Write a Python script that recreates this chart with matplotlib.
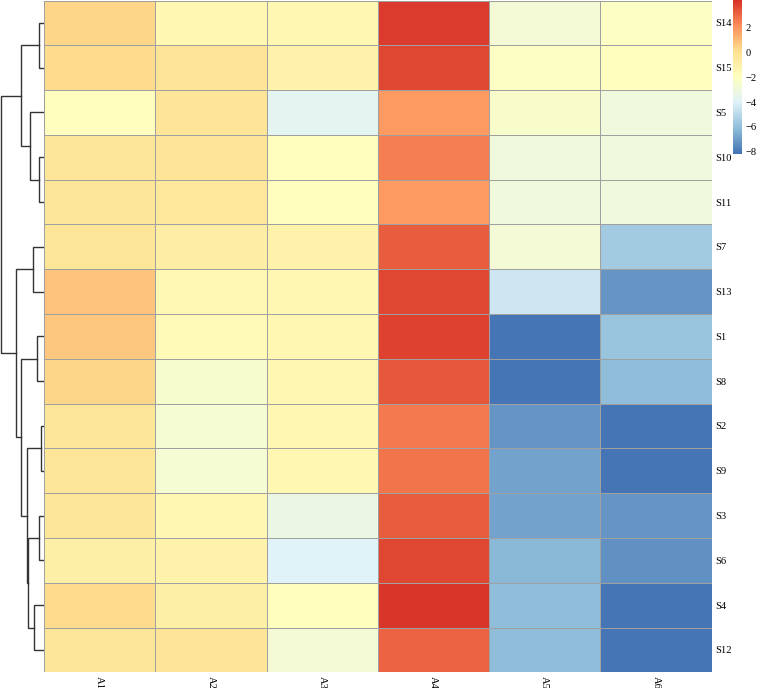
import numpy as np
import matplotlib
matplotlib.use("Agg")
import matplotlib.pyplot as plt
from matplotlib.colors import LinearSegmentedColormap

plt.rcParams['font.family'] = ['Liberation Serif', 'DejaVu Serif']

rows = ['S14', 'S15', 'S5', 'S10', 'S11', 'S7', 'S13', 'S1', 'S8',
        'S2', 'S9', 'S3', 'S6', 'S4', 'S12']
cols = ['A1', 'A2', 'A3', 'A4', 'A5', 'A6']

# values per column, rows in the order above
A1 = [0.3, 0.2, -2.0, -0.3, -0.3, -0.3, 0.8, 0.7, 0.3, -0.3, -0.3, -0.3, -1.0, 0.2, -0.3]
A2 = [-1.5, -0.2, -0.2, -0.2, -0.4, -0.8, -1.6, -1.7, -2.6, -2.7, -2.7, -1.5, -1.2, -1.0, -0.2]
A3 = [-1.4, -1.2, -3.8, -2.0, -2.0, -1.2, -1.4, -1.4, -1.4, -1.5, -1.5, -3.3, -4.0, -2.0, -2.8]
A4 = [3.9, 3.6, 1.8, 2.4, 1.8, 3.2, 3.7, 3.8, 3.3, 2.5, 2.6, 3.1, 3.6, 4.0, 3.0]
A5 = [-2.8, -2.2, -2.4, -3.0, -3.1, -2.8, -4.6, -8.2, -8.2, -7.3, -6.9, -6.9, -6.3, -6.1, -6.1]
A6 = [-2.2, -2.0, -3.1, -3.1, -3.1, -5.7, -7.3, -5.9, -6.2, -8.2, -8.2, -7.3, -7.4, -8.2, -8.2]

# row clustering: (left, right, height), ints refer to earlier merges
merges = [('S14', 'S15', 5), ('S10', 'S11', 5), ('S5', 1, 14), (0, 2, 22.7),
          ('S7', 'S13', 10.7), ('S1', 'S8', 7.3), ('S2', 'S9', 3.3),
          ('S3', 'S6', 5.3), ('S4', 'S12', 9.7), (7, 8, 15.7), (6, 9, 17.3),
          (5, 10, 22.7), (4, 11, 28), (3, 12, 43.5)]

data = np.array([A1, A2, A3, A4, A5, A6]).T
vmin, vmax = -8.2, 4.2

palette = ["#4575B4", "#91BFDB", "#E0F3F8", "#FFFFBF", "#FEE090", "#FC8D59", "#D73027"]
cmap = LinearSegmentedColormap.from_list('rdylbu', palette, N=100)

W, H = 757, 688
fig = plt.figure(figsize=(W / 100, H / 100), dpi=100)

# heatmap
hx0, hx1, hy0, hy1 = 44, 711.7, 0.5, 672.3
ax = fig.add_axes([hx0 / W, 1 - hy1 / H, (hx1 - hx0) / W, (hy1 - hy0) / H])
ax.pcolormesh(data, cmap=cmap, vmin=vmin, vmax=vmax, edgecolor='#a0a0a0', linewidth=0.5)
ax.set_xlim(0, len(cols))
ax.set_ylim(len(rows), 0)
for s in ax.spines.values():
    s.set_visible(False)
ax.yaxis.tick_right()
ax.set_yticks(np.arange(len(rows)) + 0.5)
ax.set_yticklabels(rows, fontsize=7.6)
ax.set_xticks(np.arange(len(cols)) + 0.5)
ax.set_xticklabels(cols, fontsize=7.6, rotation=270)
ax.tick_params(length=0, pad=2.5)

# dendrogram
dax = fig.add_axes([0, 1 - hy1 / H, hx0 / W, (hy1 - hy0) / H])
pos = {r: i + 0.5 for i, r in enumerate(rows)}
hgt = {r: 0 for r in rows}
for k, (a, b, h) in enumerate(merges):
    ya, yb = pos[a], pos[b]
    ha, hb = hgt[a], hgt[b]
    dax.plot([ha, h, h, hb], [ya, ya, yb, yb], color='#333333', lw=1.0,
             solid_joinstyle='miter')
    pos[k] = (ya + yb) / 2
    hgt[k] = h
dax.set_xlim(hx0, 0)
dax.set_ylim(len(rows), 0)
dax.axis('off')

# colour legend
cax = fig.add_axes([733.3 / W, 1 - 154.3 / H, 8.4 / W, 154.3 / H])
grad = np.linspace(vmin, vmax, 100).reshape(-1, 1)
cax.imshow(grad, cmap=cmap, vmin=vmin, vmax=vmax, aspect='auto', origin='lower',
           extent=[0, 1, vmin, vmax])
cax.set_xticks([])
cax.yaxis.tick_right()
cax.set_yticks([-8, -6, -4, -2, 0, 2])
cax.set_yticklabels(['\u22128', '\u22126', '\u22124', '\u22122', '0', '2'], fontsize=7.6)
cax.tick_params(length=0, pad=3)
for s in cax.spines.values():
    s.set_visible(False)

fig.savefig('out.png', dpi=100)
